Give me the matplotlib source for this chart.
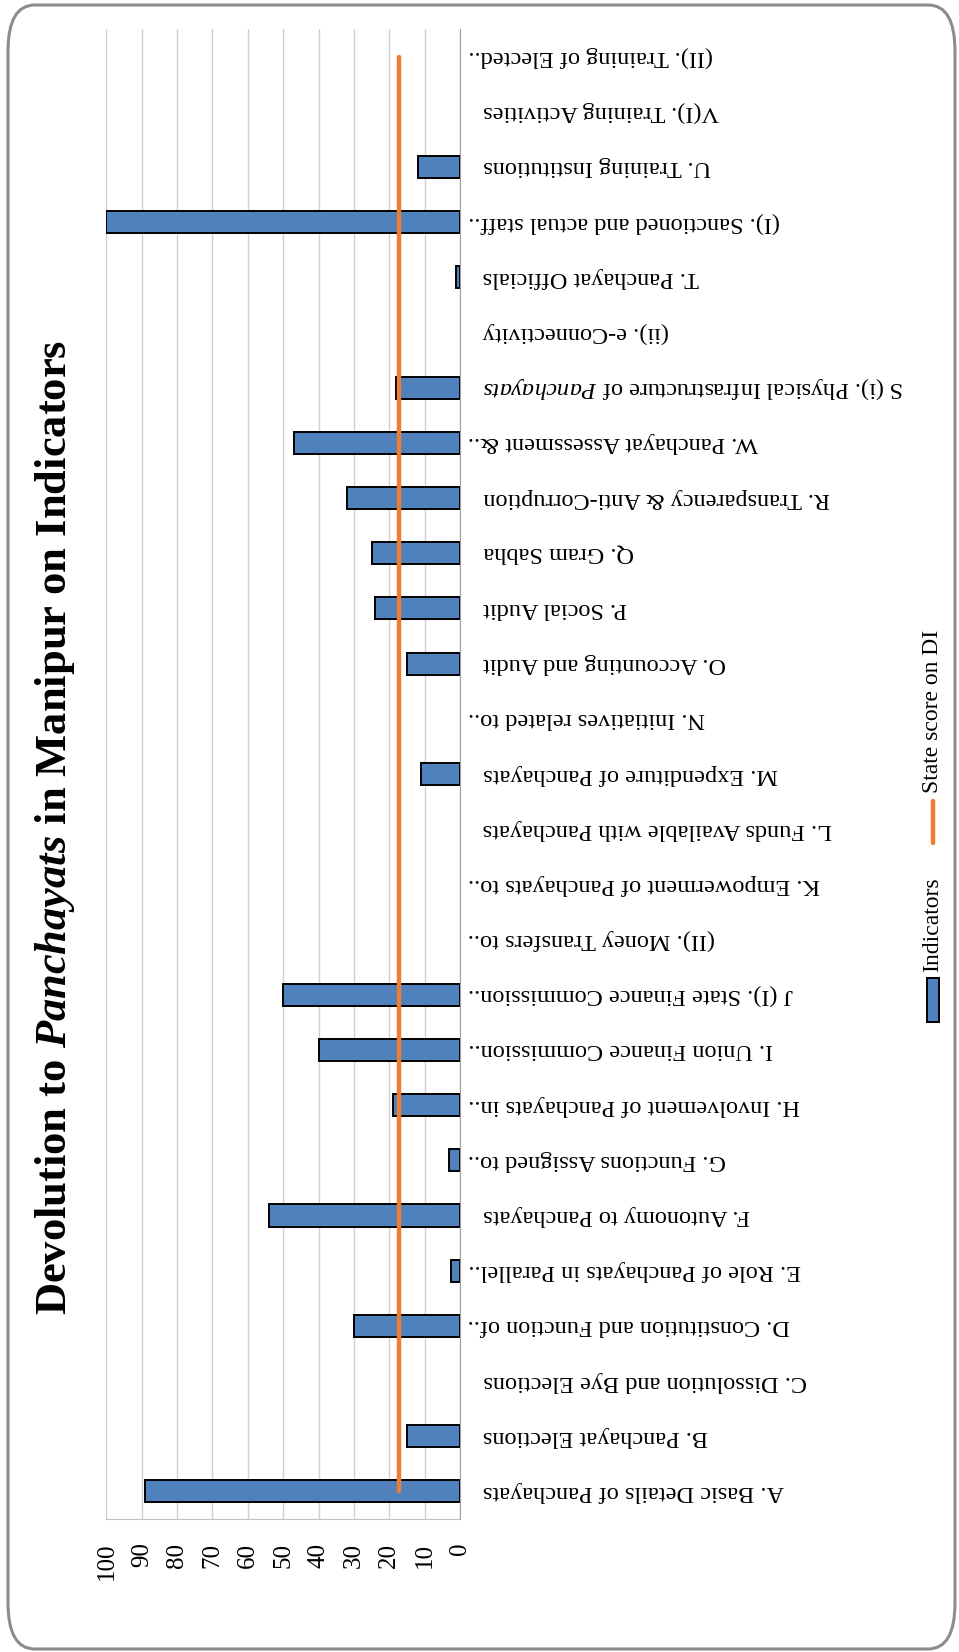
import matplotlib
matplotlib.use("Agg")
import matplotlib.pyplot as plt
import matplotlib.patches as patches

# ─────────────────────────────────────────────
# DATA (bottom to top, as drawn)
# ─────────────────────────────────────────────

indicadores = [
    "A. Basic Details of Panchayats",
    "B. Panchayat Elections",
    "C. Dissolution and Bye Elections",
    "D. Constitution and Function of..",
    "E. Role of Panchayats in Parallel..",
    "F. Autonomy to Panchayats",
    "G. Functions Assigned to..",
    "H. Involvement of Panchayats in..",
    "I. Union Finance Commission..",
    "J (I). State Finance Commission..",
    "(II). Money Transfers to..",
    "K. Empowerment of Panchayats to..",
    "L. Funds Available with Panchayats",
    "M. Expenditure of Panchayats",
    "N. Initiatives related to..",
    "O. Accounting and Audit",
    "P. Social Audit",
    "Q. Gram Sabha",
    "R. Transparency & Anti-Corruption",
    "W. Panchayat Assessment &..",
    r"S (i). Physical Infrastructure of $\mathit{Panchayats}$",
    "(ii). e-Connectivity",
    "T. Panchayat Officials",
    "(I). Sanctioned and actual staff..",
    "U. Training Institutions",
    "V(I). Training Activities",
    "(II). Training of Elected..",
]

valores = [89, 15, 0, 30, 2.5, 54, 3, 19, 40, 50, 0, 0, 0, 11, 0,
           15, 24, 25, 32, 47, 18.2, 0, 1, 100, 12, 0, 0]

puntaje_estado = 17.3
ticks_valor = [0, 10, 20, 30, 40, 50, 60, 70, 80, 90, 100]

AZUL = "#4F81BD"
NARANJA = "#ED7D31"

# ─────────────────────────────────────────────
# FONTS
# ─────────────────────────────────────────────

plt.rcParams["font.family"] = ["Liberation Serif", "DejaVu Serif"]
plt.rcParams["mathtext.fontset"] = "custom"
plt.rcParams["mathtext.rm"] = "Liberation Serif"
plt.rcParams["mathtext.it"] = "Liberation Serif:italic"
plt.rcParams["mathtext.bf"] = "Liberation Serif:bold"
plt.rcParams["mathtext.bfit"] = "Liberation Serif:italic:bold"

# ─────────────────────────────────────────────
# FIGURE (chart is drawn turned on its side)
# ─────────────────────────────────────────────

W, H = 959, 1652
fig = plt.figure(figsize=(W / 100, H / 100), dpi=100)

# rounded outer frame
marco = patches.FancyBboxPatch((8 / W, 3 / H), (W - 12) / W, (H - 8) / H,
                               boxstyle="round,pad=0,rounding_size=0.028",
                               transform=fig.transFigure, facecolor="none",
                               edgecolor="#8c8c8c", linewidth=2.2, zorder=0)
fig.patches.append(marco)

x0, x1 = 106.4, 460
y_top, y_bot = 29, 1519
ax = fig.add_axes([x0 / W, 1 - y_bot / H, (x1 - x0) / W, (y_bot - y_top) / H])
ax.patch.set_alpha(0)

pos = list(range(len(indicadores)))
bordes = [1.4 if v > 0 else 0 for v in valores]  # no outline on empty bars
ax.barh(pos, valores, height=0.4, color=AZUL, edgecolor="black",
        linewidth=bordes, zorder=3)
ax.plot([puntaje_estado] * len(pos), pos, color=NARANJA, linewidth=3.2,
        solid_capstyle="round", zorder=4)

ax.set_xlim(100, 0)
ax.set_ylim(-0.5, len(pos) - 0.5)
ax.set_xticks(ticks_valor)
ax.set_xticklabels([str(t) for t in ticks_valor], rotation=90, va="top",
                   fontsize=18)
ax.tick_params(axis="x", length=0, pad=17)
ax.set_yticks([])
ax.grid(axis="x", color="#d0d0d0", linewidth=1, zorder=1)

for lado in ["top", "left"]:
    ax.spines[lado].set_visible(False)
ax.spines["right"].set_color("#a0a0a0")
ax.spines["bottom"].set_color("#c0c0c0")
ax.spines["right"].set_zorder(5)

# category labels, upside down on the right of the zero line
for i, nombre in enumerate(indicadores):
    xpix = 468 if nombre.endswith("..") else 483
    ax.text((xpix - x0) / (x1 - x0), i, nombre, transform=ax.get_yaxis_transform(),
            rotation=180, ha="left", va="center", fontsize=17.5)

# ─────────────────────────────────────────────
# TITLE AND LEGEND
# ─────────────────────────────────────────────

fig.text(55 / W, 1 - 827 / H,
         r"Devolution to $\mathbfit{Panchayats}$ in Manipur on Indicators",
         rotation=90, ha="center", va="center", fontsize=32, fontweight="bold")

leg_x = 933
fig.patches.append(patches.Rectangle(((leg_x - 6) / W, 1 - 1022 / H), 12 / W, 44 / H,
                                     transform=fig.transFigure, facecolor=AZUL,
                                     edgecolor="black", linewidth=1.4))
fig.text(leg_x / W, 1 - 972 / H, "Indicators", rotation=90, ha="center",
         va="bottom", fontsize=17)
fig.lines.append(plt.Line2D([leg_x / W, leg_x / W], [1 - 843 / H, 1 - 801 / H],
                            transform=fig.transFigure, color=NARANJA,
                            linewidth=3.2, solid_capstyle="round"))
fig.text(leg_x / W, 1 - 793 / H, "State score on DI", rotation=90, ha="center",
         va="bottom", fontsize=17)

plt.savefig("out.png", dpi=100)
